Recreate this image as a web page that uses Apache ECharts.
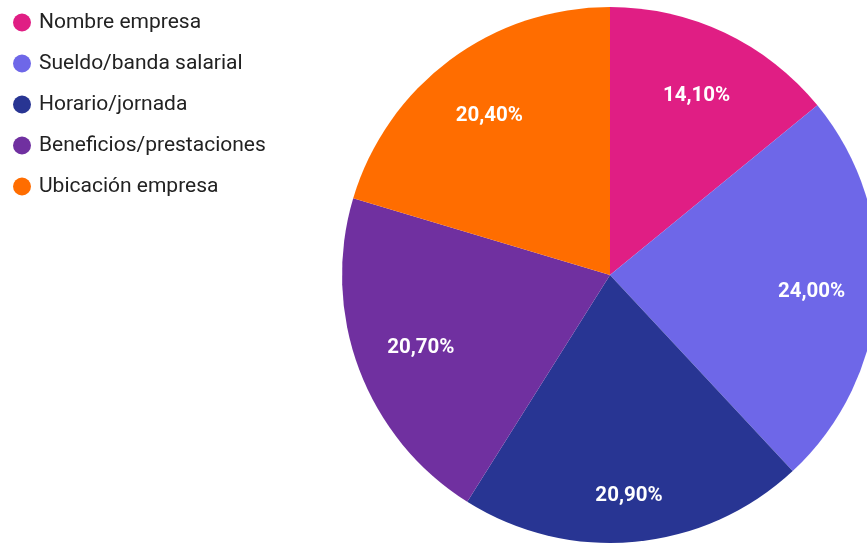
<!DOCTYPE html>
<html><head><meta charset="utf-8">
<script src="https://cdn.jsdelivr.net/npm/echarts@6/dist/echarts.min.js"></script>
<style>html,body{margin:0;padding:0;background:#fff}#c{width:867px;height:545px}</style>
</head><body><div id="c"></div>
<script>
const categories = ["Nombre empresa", "Sueldo/banda salarial", "Horario/jornada", "Beneficios/prestaciones", "Ubicación empresa"];
const values = [14.1, 24.0, 20.9, 20.7, 20.4];
const colors = ["#E01E84", "#6E67E8", "#283593", "#7030A0", "#FF6D00"];
// style: per-slice label nudges (pixels), matching the reference placement
const labelNudges = [[0, 3], [0, 3], [0, 20], [0, 2], [0, 3]];

const data = categories.map((n, i) => ({ name: n, value: values[i] }));
const labelData = categories.map((n, i) => ({ name: n, value: values[i], label: { offset: labelNudges[i] } }));
const chart = echarts.init(document.getElementById('c'), null, { renderer: 'canvas' });
chart.setOption({
  animation: false,
  color: colors,
  legend: {
    orient: 'vertical', left: 8, top: 7,
    icon: 'circle', itemWidth: 18, itemHeight: 18, itemGap: 20,
    textStyle: { fontFamily: 'Roboto', fontSize: 21, color: '#222222', padding: [0, 0, 0, 3] },
    data: categories
  },
  series: [
    {
      type: 'pie', center: [610, 275], radius: [0, 268], startAngle: 90, clockwise: true,
      label: { show: false }, labelLine: { show: false },
      itemStyle: { borderWidth: 0 },
      emphasis: { disabled: true },
      data: data
    },
    {
      type: 'pie', center: [610, 275], radius: [130, 268], startAngle: 90, clockwise: true,
      silent: true,
      itemStyle: { color: 'rgba(0,0,0,0)', borderWidth: 0 },
      label: {
        show: true, position: 'inside', color: '#ffffff',
        fontFamily: 'Roboto', fontWeight: 'bold', fontSize: 20.5,
        formatter: p => p.value.toFixed(2).replace('.', ',') + '%'
      },
      labelLine: { show: false },
      emphasis: { disabled: true },
      data: labelData
    }
  ]
});
</script></body></html>
